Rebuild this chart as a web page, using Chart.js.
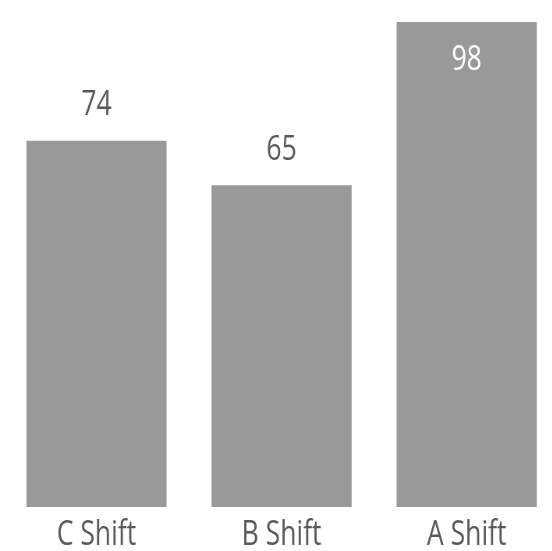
<!DOCTYPE html>
<html>
<head>
<meta charset="utf-8">
<script src="https://cdn.jsdelivr.net/npm/chart.js@4"></script>
<style>
  html, body { margin: 0; padding: 0; background: #fff; overflow: hidden; }
  /* chart is laid out wide, then squeezed horizontally for the narrow lettering */
  #wrap { width: 717px; height: 551px; transform: scaleX(0.78); transform-origin: 0 0; }
</style>
</head>
<body>
<div id="wrap"><canvas id="shiftChart"></canvas></div>
<script>
  /* ---- DATA ---- */
  const shifts = ['C Shift', 'B Shift', 'A Shift'];
  const output = [74, 65, 98];

  const FONT = "'Open Sans', sans-serif";
  const BAR = '#999999';
  const TEXT = '#595959';

  // value labels: above the bar, or inside it when there is no room on top
  const valueLabels = {
    id: 'valueLabels',
    afterDatasetsDraw(chart) {
      const ctx = chart.ctx;
      const meta = chart.getDatasetMeta(0);
      ctx.save();
      ctx.font = '34px ' + FONT;
      ctx.textAlign = 'center';
      ctx.textBaseline = 'middle';
      meta.data.forEach((bar, i) => {
        const room = bar.y - chart.chartArea.top;
        if (room > 60) {
          ctx.fillStyle = TEXT;
          ctx.fillText(output[i], bar.x, bar.y - 35);
        } else {
          ctx.fillStyle = '#ffffff';
          ctx.fillText(output[i], bar.x, bar.y + 38);
        }
      });
      ctx.restore();
    }
  };

  new Chart(document.getElementById('shiftChart'), {
    type: 'bar',
    data: {
      labels: shifts,
      datasets: [{
        data: output,
        backgroundColor: BAR,
        borderWidth: 0,
        barPercentage: 0.757,
        categoryPercentage: 1
      }]
    },
    options: {
      responsive: true,
      maintainAspectRatio: false,
      animation: false,
      layout: { padding: { left: 5, top: 12, right: 0, bottom: -12 } },
      plugins: { legend: { display: false }, tooltip: { enabled: false } },
      scales: {
        x: {
          grid: { display: false, drawTicks: false },
          border: { display: false },
          ticks: {
            color: TEXT,
            padding: 11,
            font: { family: FONT, size: 34, lineHeight: 1 }
          }
        },
        y: {
          display: false,
          min: 0,
          max: 100
        }
      }
    },
    plugins: [valueLabels]
  });
</script>
</body>
</html>
